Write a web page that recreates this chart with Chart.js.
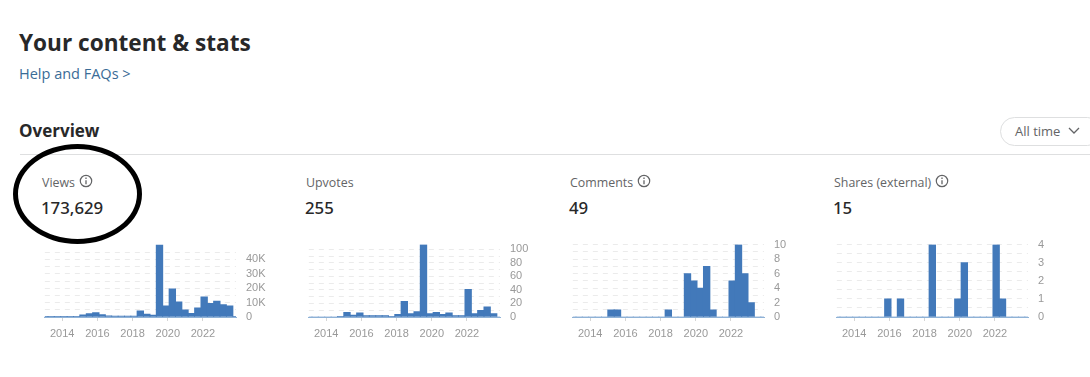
<!DOCTYPE html>
<html>
<head>
<meta charset="utf-8">
<script src="https://cdn.jsdelivr.net/npm/chart.js@4"></script>
<style>
  html, body { margin: 0; background: #fff; }
  body { width: 1090px; height: 377px; position: relative; overflow: hidden; font-family: "Open Sans", "Noto Sans", sans-serif; color: #282829; }
  .abs { position: absolute; white-space: nowrap; }
  .title { left: 19px; top: 26px; font-size: 22.6px; line-height: 34px; font-weight: 700; }
  .help { left: 19px; top: 64px; font-size: 14.5px; line-height: 20px; color: #3a6c97; }
  .overview { left: 19px; top: 119px; font-size: 17px; line-height: 24px; font-weight: 700; }
  .rule { left: 20px; top: 154px; width: 1070px; height: 1px; background: #dedfe0; }
  .pill { left: 1000px; top: 117px; width: 100px; height: 27px; border: 1px solid #dedfe0; border-radius: 15px; }
  .pill span { position: absolute; left: 14px; top: 3px; font-size: 13px; line-height: 20px; color: #636466; }
  .pill svg { position: absolute; left: 67px; top: 9px; }
  .label { top: 174px; font-size: 12.4px; line-height: 18px; color: #636466; }
  .label svg { vertical-align: -1px; margin-left: 1px; }
  .num { top: 196px; font-family: "Noto Sans", sans-serif; font-size: 16.8px; line-height: 24px; font-weight: 500; color: #282829; }
  canvas { position: absolute; top: 228px; }
  .circle { left: 13px; top: 144px; width: 119px; height: 90px; border: 5px solid #000; border-radius: 50%; }
</style>
</head>
<body>
<div class="abs title">Your content &amp; stats</div>
<div class="abs help">Help and FAQs &gt;</div>
<div class="abs overview">Overview</div>
<div class="abs rule"></div>
<div class="abs pill"><span>All time</span><svg width="12" height="8" viewBox="0 0 12 8"><path d="M1 1l5 5 5-5" fill="none" stroke="#636466" stroke-width="1.3"/></svg></div>
<div id="cards"></div>
<div class="abs circle"></div>

<script>
// mid point of each bar, in years
var periods = [2013.01, 2013.37, 2013.73, 2014.10, 2014.46, 2014.82, 2015.18, 2015.55, 2015.91, 2016.27, 2016.63,
  2017.00, 2017.36, 2017.72, 2018.08, 2018.44, 2018.81, 2019.17, 2019.53, 2019.89, 2020.26, 2020.62,
  2020.98, 2021.34, 2021.71, 2022.07, 2022.43, 2022.79, 2023.15, 2023.52, 2023.88];

var views = [400, 400, 400, 400, 400, 400, 1500, 2300, 3000, 1700, 800, 600, 600, 600, 700, 4200, 2000, 1400,
  50200, 7700, 19500, 10500, 5000, 2600, 6300, 14000, 9500, 11000, 8600, 7700, 500];
var upvotes = [0, 0, 0, 0, 0, 1, 7, 3, 6, 2, 2, 2, 2, 1, 4, 23, 5, 8, 107, 5, 7, 4, 6, 2, 2, 41, 5, 10, 15, 5, 0];
var comments = [0, 0, 0, 0, 0, 0, 1, 1, 0, 0, 0, 0, 0, 0, 0, 1, 0, 0, 6, 5, 4, 7, 1, 0, 0, 5, 10, 6, 2, 0, 0];
var shares = [0, 0, 0, 0, 0, 0, 0, 0, 1, 0, 1, 0, 0, 0, 0, 4, 0, 0, 0, 1, 3, 0, 0, 0, 0, 4, 1, 0, 0, 0, 0];

var titles = ["Views", "Upvotes", "Comments", "Shares (external)"];
var totals = ["173,629", "255", "49", "15"];
var series = [views, upvotes, comments, shares];
var yMax = [50300, 107, 10, 4];
var yTop = [45000, 100, 10, 4];
var ySteps = [5000, 10, 1, 0.5];
var yMajor = [10000, 20, 2, 1];

var infoIcon = '<svg width="14" height="14" viewBox="0 0 14 14"><circle cx="7" cy="7" r="5.7" fill="none" stroke="#636466" stroke-width="1.2"/>' +
  '<path d="M7 6.2v4M7 3.6v1.3" stroke="#636466" stroke-width="1.3"/></svg>';

var cards = document.getElementById("cards");

function drawCard(i) {
  var left = 264 * i;
  var icon = i == 1 ? "" : infoIcon;
  cards.insertAdjacentHTML("beforeend",
    '<div class="abs label" style="left:' + (42 + left) + 'px">' + titles[i] + ' ' + icon + '</div>' +
    '<div class="abs num" style="left:' + (41 + left) + 'px">' + totals[i] + '</div>' +
    '<canvas id="c' + i + '" width="240" height="116" style="left:' + (44 + left) + 'px"></canvas>');

  new Chart(document.getElementById("c" + i), {
    type: "bar",
    data: {
      datasets: [{
        data: periods.map(function (p, k) { return { x: p, y: series[i][k] }; }),
        backgroundColor: "#4279ba",
        barThickness: 6.7
      }]
    },
    options: {
      responsive: false,
      animation: false,
      plugins: { legend: { display: false }, tooltip: { enabled: false } },
      scales: {
        x: {
          type: "linear",
          offset: false,
          min: 2013.01,
          max: 2023.88,
          afterFit: function (s) { s.height = 27; },
          border: { color: "#8fb2d6", width: 1 },
          grid: { offset: false, drawOnChartArea: false, drawTicks: true, tickLength: 4, color: "#d5d5d5" },
          ticks: {
            stepSize: 2,
            includeBounds: false,
            maxRotation: 0,
            autoSkip: false,
            padding: 6,
            color: "#999",
            font: { family: "Liberation Sans", size: 11 },
            callback: function (v) { return String(v); }
          }
        },
        y: {
          position: "right",
          min: 0,
          max: yMax[i],
          // the library rescales stepSize to fit max, so list the ticks by hand
          afterBuildTicks: function (s) {
            var list = [];
            for (var v = 0; v <= yTop[i]; v += ySteps[i]) list.push({ value: v });
            s.ticks = list;
          },
          afterFit: function (s) { s.width = 48; },
          border: { display: false, dash: [5, 5] },
          grid: { color: "#ebebeb", drawTicks: false },
          ticks: {
            autoSkip: false,
            padding: 10,
            color: "#999",
            font: { family: "Liberation Sans", size: 11 },
            callback: function (v) {
              if (v % yMajor[i] != 0) return "";
              return i == 0 && v > 0 ? (v / 1000) + "K" : String(v);
            }
          }
        }
      }
    }
  });
}

for (var n = 0; n < series.length; n++) drawCard(n);
</script>
</body>
</html>
